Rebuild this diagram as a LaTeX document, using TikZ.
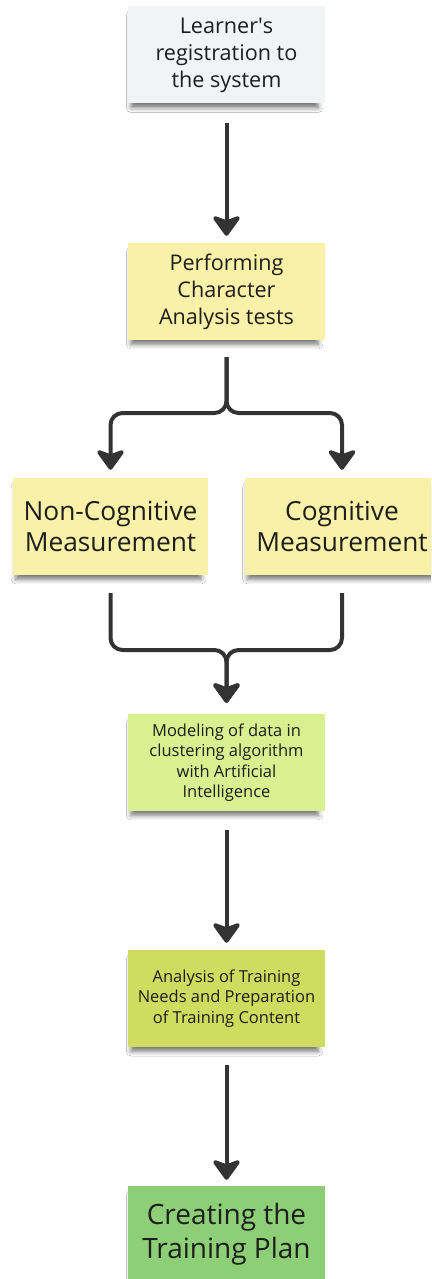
\documentclass[tikz,border=0pt]{standalone}
\usepackage{fontspec}
\setmainfont{Open Sans}
\usetikzlibrary{arrows.meta,shadows.blur}

\definecolor{notegray}{HTML}{F2F3F5}
\definecolor{noteyellow}{HTML}{FAF1A8}
\definecolor{notelime}{HTML}{D8F08F}
\definecolor{noteolive}{HTML}{CEDD60}
\definecolor{notegreen}{HTML}{8DCF76}
\definecolor{inkc}{HTML}{1E1E1E}
\definecolor{linec}{HTML}{333333}

\begin{document}
\begin{tikzpicture}[x=1pt,y=-1pt,
  note/.style={minimum width=197pt, minimum height=97pt, inner sep=0pt,
    align=center, text=inkc,
    blur shadow={shadow xshift=-2pt, shadow yshift=-7pt, shadow opacity=55,
      shadow blur radius=5pt, shadow scale=0.95}},
  bigtext/.style={font=\fontsize{21.6}{27}\selectfont},
  widetext/.style={font=\fontsize{26.3}{31}\selectfont},
  smalltext/.style={font=\fontsize{16.5}{20.5}\selectfont},
  hugetext/.style={font=\fontsize{28}{34}\selectfont},
  flow/.style={draw=linec, line width=4pt, rounded corners=12pt,
    -{Stealth[length=23pt,width=33pt,inset=6pt,round]}}]

  \clip (0,0) rectangle (431,1279);
  \fill[white] (0,0) rectangle (431,1279);

  % sticky notes
  \node[note, bigtext, fill=notegray] (reg) at (226.5,55)
    {Learner\textquotesingle s\\registration to\\the system};
  \node[note, bigtext, fill=noteyellow] (tests) at (226.5,291.5)
    {Performing\\Character\\Analysis tests};
  \node[note, widetext, fill=noteyellow, minimum width=195pt] (noncog) at (110.5,526.5)
    {Non-Cognitive\\Measurement};
  \node[note, widetext, fill=noteyellow, minimum width=195pt] (cog) at (342,526.5)
    {Cognitive\\Measurement};
  \node[note, smalltext, fill=notelime] (model) at (226.5,762.5)
    {Modeling of data in\\clustering algorithm\\with Artificial\\Intelligence};
  \node[note, smalltext, fill=noteolive] (needs) at (226.5,998.5)
    {Analysis of Training\\Needs and Preparation\\of Training Content};
  \node[note, hugetext, fill=notegreen] (plan) at (226.5,1234.5)
    {Creating the\\Training Plan};

  % branching points of the connectors
  \coordinate (split) at (226.5,413);
  \coordinate (merge) at (226.5,650);

  % connectors
  \draw[flow] ([yshift=-19pt]reg.south) -- ([yshift=7pt]tests.north);
  \draw[flow] ([yshift=-17pt]tests.south) -- (split) -| ([yshift=8pt]noncog.north);
  \draw[flow] ([yshift=-17pt]tests.south) -- (split) -| ([yshift=8pt]cog.north);
  \draw[flow] ([yshift=-18pt]noncog.south) |- (merge) -- ([yshift=11pt]model.north);
  \draw[flow] ([yshift=-18pt]cog.south) |- (merge) -- ([yshift=11pt]model.north);
  \draw[flow] ([yshift=-19pt]model.south) -- ([yshift=7pt]needs.north);
  \draw[flow] ([yshift=-18pt]needs.south) -- ([yshift=6pt]plan.north);
\end{tikzpicture}
\end{document}
